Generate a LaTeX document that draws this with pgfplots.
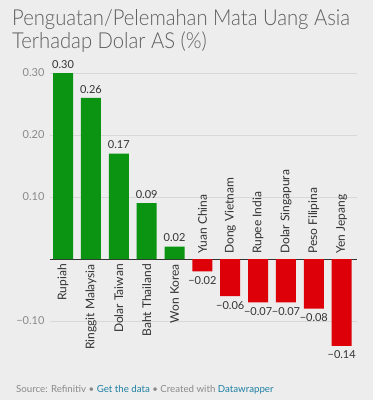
\documentclass[border=0pt]{standalone}
\usepackage{pgfplots}
\pgfplotsset{compat=1.18}
\usepackage{pgfplotstable}
\usepackage{fontspec}
\setmainfont{Lato}
\newfontfamily\titlefont[FakeStretch=0.92]{Lato Light}
\definecolor{bgc}{HTML}{EDEDED}
\definecolor{titlec}{HTML}{5E5E5E}
\definecolor{greenc}{HTML}{0A9412}
\definecolor{redc}{HTML}{DD0008}
\definecolor{gridc}{HTML}{D8D8D8}
\definecolor{tickc}{HTML}{8A8A8A}
\definecolor{labc}{HTML}{333333}
\definecolor{linkc}{HTML}{1D7FA3}
\pgfplotstableread[col sep=comma]{
x,y,v,lab
0,0.30,0.30,Rupiah
1,0.26,0.26,Ringgit Malaysia
2,0.17,0.17,Dolar Taiwan
3,0.09,0.09,Baht Thailand
4,0.02,0.02,Won Korea
}\pos
\pgfplotstableread[col sep=comma]{
x,y,v,lab
5,-0.02,−0.02,Yuan China
6,-0.06,−0.06,Dong Vietnam
7,-0.07,−0.07,Rupee India
8,-0.07,−0.07,Dolar Singapura
9,-0.08,−0.08,Peso Filipina
10,-0.14,−0.14,Yen Jepang
}\negt
\pgfplotstableread[col sep=comma]{
x,z,lab
0,0,Rupiah
1,0,Ringgit Malaysia
2,0,Dolar Taiwan
3,0,Baht Thailand
4,0,Won Korea
}\poslab
\pgfplotstableread[col sep=comma]{
x,z,lab
5,0,Yuan China
6,0,Dong Vietnam
7,0,Rupee India
8,0,Dolar Singapura
9,0,Peso Filipina
10,0,Yen Jepang
}\neglab
\begin{document}
\begin{tikzpicture}
\useasboundingbox (0pt,0pt) rectangle (373pt,400pt);
\fill[bgc] (0pt,0pt) rectangle (373pt,400pt);
\node[anchor=base west, font=\titlefont\fontsize{22}{22}\selectfont, text=titlec, inner sep=0] at (12pt,374pt) {Penguatan/Pelemahan Mata Uang Asia};
\node[anchor=base west, font=\titlefont\fontsize{22}{22}\selectfont, text=titlec, inner sep=0] at (12pt,351pt) {Terhadap Dolar AS (\%)};
\node[anchor=base west, font=\fontsize{9.7}{12}\selectfont, text=tickc, inner sep=0] at (16pt,7pt) {Source: Refinitiv • \textcolor{linkc}{Get the data} • Created with \textcolor{linkc}{Datawrapper}};
\begin{axis}[
  at={(50pt,48pt)}, anchor=south west,
  scale only axis, width=307pt, height=279pt,
  xmin=-0.47, xmax=10.55, ymin=-0.15, ymax=0.30,
  clip=false,
  axis line style={draw=none},
  xtick=\empty,
  ytick={-0.1,0.1,0.2,0.3},
  yticklabels={−0.10,0.10,0.20,0.30},
  ymajorgrids,
  major grid style={gridc, line width=0.6pt},
  tick style={draw=none},
  yticklabel style={font=\fontsize{11}{13}\selectfont, text=tickc, anchor=east, xshift=-2pt},
]
\addplot[labc, line width=0.9pt, forget plot] coordinates {(-0.47,0) (10.55,0)};
\addplot[ybar, bar width=20pt, bar shift=0pt, fill=greenc, draw=none,
  point meta=explicit symbolic, nodes near coords,
  every node near coord/.style={anchor=south, font=\fontsize{11}{13}\selectfont, text=labc, inner sep=4.5pt}]
  table[x=x, y=y, meta=v] {\pos};
\addplot[ybar, bar width=20pt, bar shift=0pt, fill=redc, draw=none,
  point meta=explicit symbolic, nodes near coords,
  every node near coord/.style={anchor=north, font=\fontsize{11}{13}\selectfont, text=labc, inner sep=5pt}]
  table[x=x, y=y, meta=v] {\negt};
\addplot[draw=none, mark=none, point meta=explicit symbolic, nodes near coords,
  every node near coord/.style={yshift=-5pt, rotate=90, anchor=east, inner sep=0pt, font=\fontsize{12}{13}\selectfont, text=labc}]
  table[x=x, y=z, meta=lab] {\poslab};
\addplot[draw=none, mark=none, point meta=explicit symbolic, nodes near coords,
  every node near coord/.style={yshift=5pt, rotate=90, anchor=west, inner sep=0pt, font=\fontsize{12}{13}\selectfont, text=labc}]
  table[x=x, y=z, meta=lab] {\neglab};
\end{axis}
\end{tikzpicture}
\end{document}
